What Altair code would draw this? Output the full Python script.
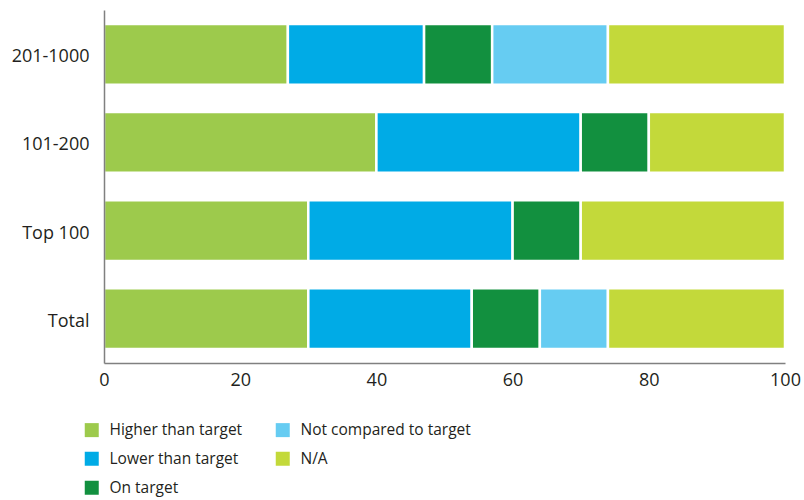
import altair as alt
import pandas as pd

categories = ["201-1000", "101-200", "Top 100", "Total"]
series = ["Higher than target", "Lower than target", "On target",
          "Not compared to target", "N/A"]
colors = ["#9DCA4C", "#00ABE6", "#12903F", "#66CCF2", "#C3D93A"]

higher = [27, 40, 30, 30]
lower = [20, 30, 30, 24]
on_target = [10, 10, 10, 10]
not_compared = [17, 0, 0, 10]
na = [26, 20, 30, 26]

values = [higher, lower, on_target, not_compared, na]
rows = []
for si, (s, vals) in enumerate(zip(series, values)):
    for c, v in zip(categories, vals):
        if v > 0:
            rows.append({"category": c, "series": s, "value": v, "order": si})
df = pd.DataFrame(rows)

font = "Open Sans"
text_color = "#231F20"

chart = alt.Chart(df).mark_bar(stroke="white", strokeWidth=2.5).encode(
    x=alt.X("value:Q", stack="zero",
            scale=alt.Scale(domain=[0, 100], nice=False),
            axis=alt.Axis(values=[0, 20, 40, 60, 80, 100], title=None, ticks=False,
                          grid=False, labelPadding=8, labelFlush=False,
                          domainColor="#808080", domainWidth=1.5, zindex=1)),
    y=alt.Y("category:N", sort=categories,
            scale=alt.Scale(paddingInner=0.31, paddingOuter=0.16),
            axis=alt.Axis(title=None, ticks=False, labelPadding=15, labelOffset=3,
                          domainColor="#808080", domainWidth=1.5, zindex=1)),
    color=alt.Color("series:N",
                    scale=alt.Scale(domain=series, range=colors),
                    legend=alt.Legend(title=None, orient="none", legendX=-20,
                                      legendY=412, columns=2, symbolType="square",
                                      symbolSize=196, symbolStrokeWidth=0,
                                      labelFontSize=15.5, labelOffset=10,
                                      labelLimit=400,
                                      rowPadding=12, columnPadding=32,
                                      labelFont=font, labelColor=text_color)),
    order=alt.Order("order:Q", sort="ascending"),
).properties(
    width=681, height=353,
    autosize=alt.AutoSizeParams(type="none"),
    padding={"left": 104, "top": 10, "right": 19, "bottom": 137},
).configure_axis(
    labelFont=font, labelFontSize=18, labelColor=text_color,
).configure_view(stroke=None)

chart.save("out.html", embed_options={"renderer": "svg", "actions": False})
